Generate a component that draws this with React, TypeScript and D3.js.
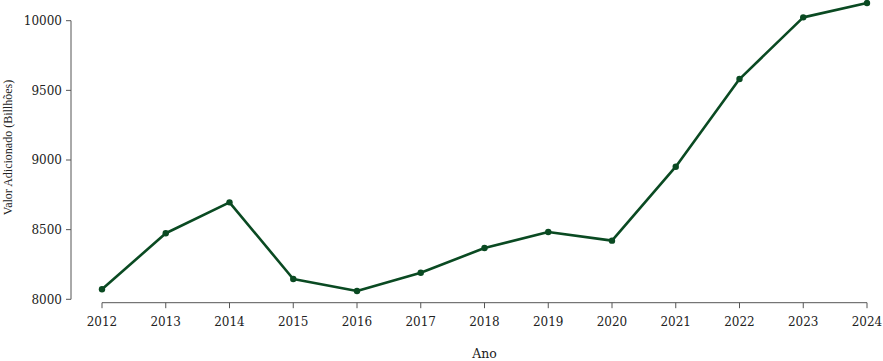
import React from "react";
import * as d3 from "d3";

const years = [2012, 2013, 2014, 2015, 2016, 2017, 2018, 2019, 2020, 2021, 2022, 2023, 2024];
const values = [8072, 8474, 8696, 8146, 8060, 8191, 8368, 8483, 8421, 8952, 9581, 10024, 10127];
const yTicks = [8000, 8500, 9000, 9500, 10000];
const xLabel = "Ano";
const yLabel = "Valor Adicionado (Billhões)";

const W = 883;
const H = 361;
const LINE = "#0a4a22";
const AXIS = "#555555";
const TEXT = "#222222";
const TICK_FONT = "'DejaVu Serif', serif";
const TITLE_FONT = "'Liberation Serif', serif";

export default function App() {
  const x = d3.scaleLinear().domain([2012, 2024]).range([102, 867]);
  const y = d3.scaleLinear().domain([8000, 10000]).range([299.3, 20.7]);
  const line = d3
    .line<number>()
    .x((_, i) => x(years[i]))
    .y((d) => y(d));
  const axisY = 302.7;
  const axisX = 71;
  return (
    <svg
      width={W}
      height={H}
      style={{ position: "absolute", left: 0, top: 0, background: "#fff" }}
    >
      {/* y axis */}
      <line x1={axisX} x2={axisX} y1={y(8000)} y2={y(10000)} stroke={AXIS} strokeWidth={1} />
      {yTicks.map((t) => (
        <g key={t}>
          <line x1={axisX - 5} x2={axisX} y1={y(t)} y2={y(t)} stroke={AXIS} strokeWidth={1} />
          <text
            x={axisX - 9}
            y={y(t)}
            dy="0.35em"
            textAnchor="end"
            fontFamily={TICK_FONT}
            fontSize={12}
            fill={TEXT}
          >
            {t}
          </text>
        </g>
      ))}
      {/* x axis */}
      <line x1={x(2012)} x2={x(2024)} y1={axisY} y2={axisY} stroke={AXIS} strokeWidth={1} />
      {years.map((yr) => (
        <g key={yr}>
          <line x1={x(yr)} x2={x(yr)} y1={axisY} y2={axisY + 5.5} stroke={AXIS} strokeWidth={1} />
          <text
            x={x(yr)}
            y={321.7}
            dy="0.35em"
            textAnchor="middle"
            fontFamily={TICK_FONT}
            fontSize={12}
            fill={TEXT}
          >
            {yr}
          </text>
        </g>
      ))}
      <text
        x={(x(2012) + x(2024)) / 2}
        y={353.5}
        dy="0.35em"
        textAnchor="middle"
        fontFamily={TICK_FONT}
        fontSize={12.5}
        fill={TEXT}
      >
        {xLabel}
      </text>
      <text
        transform={`translate(8,147.5) rotate(-90)`}
        dy="0.35em"
        textAnchor="middle"
        fontFamily={TITLE_FONT}
        fontSize={12}
        fill={TEXT}
      >
        {yLabel}
      </text>
      {/* data */}
      <path d={line(values) || ""} fill="none" stroke={LINE} strokeWidth={2.6} strokeLinejoin="round" />
      {values.map((v, i) => (
        <circle key={years[i]} cx={x(years[i])} cy={y(v)} r={3.2} fill={LINE} />
      ))}
    </svg>
  );
}
